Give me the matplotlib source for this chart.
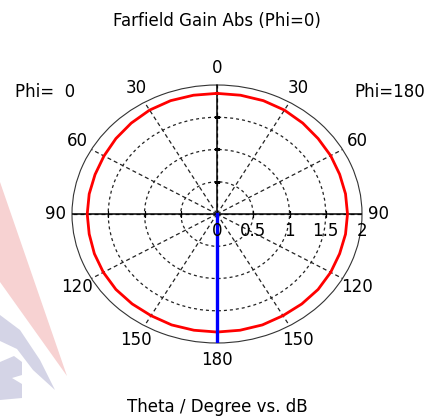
import numpy as np
import matplotlib
matplotlib.use('Agg')
import matplotlib.pyplot as plt
from matplotlib.patches import Polygon

# ---- data ----
theta_deg = np.arange(0, 181, 10)
gain_phi0 = [1.87, 1.87, 1.87, 1.86, 1.84, 1.82, 1.80, 1.79, 1.79, 1.79,
             1.79, 1.80, 1.81, 1.82, 1.82, 1.82, 1.83, 1.83, 1.83]
gain_phi180 = [1.87, 1.87, 1.87, 1.86, 1.84, 1.82, 1.81, 1.80, 1.80, 1.80,
               1.80, 1.80, 1.81, 1.82, 1.82, 1.82, 1.83, 1.83, 1.83]
theta_grid_deg = [0, 30, 60, 90, 120, 150, 180, 210, 240, 270, 300, 330]
theta_labels = ['0', '30', '60', '90', '120', '150', '180',
                '150', '120', '90', '60', '30']
r_grid = [0.5, 1.0, 1.5]
r_ticks = [0, 0.5, 1, 1.5, 2]
r_labels = ['0', '0.5', '1', '1.5', '2']
r_max = 2
main_lobe_theta = 180

title = 'Farfield Gain Abs (Phi=0)'
xlabel = 'Theta / Degree vs. dB'
left_label = 'Phi=  0'
right_label = 'Phi=180'

FS = 12
plt.rcParams['font.family'] = ['DejaVu Sans']

fig = plt.figure(figsize=(4.30, 4.19), dpi=100)
W, H = 430, 419


def fpts(pts):
    return [(x / W, 1 - y / H) for x, y in pts]


# faint watermark in the lower-left corner
pink = Polygon(fpts([(0, 182), (67, 376), (0, 282)]),
               closed=True, transform=fig.transFigure, facecolor='#f7d2d2',
               edgecolor='none', zorder=0)
grey1 = Polygon(fpts([(0, 315), (20, 330), (40, 360), (55, 390),
                      (33, 370), (17, 349), (0, 341)]),
                closed=True, transform=fig.transFigure, facecolor='#d4d4e6',
                edgecolor='none', zorder=0)
grey2 = Polygon(fpts([(0, 362), (14, 356), (22, 362), (22, 375), (12, 378),
                      (22, 384), (22, 398), (0, 400)]),
                closed=True, transform=fig.transFigure, facecolor='#d4d4e6',
                edgecolor='none', zorder=0)
for p in (pink, grey1, grey2):
    fig.patches.append(p)

ax = fig.add_axes([72 / W, 76 / H, 290 / W, 258 / H], projection='polar')
ax.set_aspect('auto')
ax.patch.set_alpha(0)
ax.set_theta_zero_location('N')
ax.set_theta_direction(1)
ax.set_ylim(0, r_max)

ax.set_thetagrids(theta_grid_deg, labels=theta_labels, fontsize=FS)
ax.set_rgrids(r_grid, labels=['' for _ in r_grid])
ax.tick_params(axis='x', direction='in', length=4, width=0.8, pad=5, colors='black')
ax.xaxis.grid(True, color='#222222', linestyle=(0, (3.2, 2.4)), linewidth=0.9)
ax.yaxis.grid(True, color='#222222', linestyle=(0, (2.4, 2.4)), linewidth=0.9)
ax.spines['polar'].set_color('#333333')
ax.spines['polar'].set_linewidth(0.8)

# solid axis lines
ax.plot(np.deg2rad([90, 90]), [0, r_max], color='black', lw=1.1, zorder=3)
ax.plot(np.deg2rad([270, 270]), [0, r_max], color='black', lw=1.1, zorder=3)
ax.plot(np.deg2rad([0, 0]), [0, r_max], color='black', lw=1.1, zorder=3)
ax.plot(np.deg2rad([90] * 3 + [270] * 3), r_grid * 2, ls='none', marker='|',
        ms=5, mew=0.9, color='black', zorder=3)
ax.plot(np.deg2rad([0] * 3), r_grid, ls='none', marker='_',
        ms=5, mew=0.9, color='black', zorder=3)

# gain curve
ang = np.concatenate([theta_deg, 360 - theta_deg[::-1]])
gain = np.concatenate([gain_phi0, gain_phi180[::-1]])
ax.plot(np.deg2rad(ang), gain, color='#ff0000', lw=2.0, zorder=4)

# main lobe direction
ax.plot(np.deg2rad([main_lobe_theta, main_lobe_theta]), [0, r_max],
        color='#0000ff', lw=2.4, zorder=5)

# radial labels below the horizontal axis
for r, lab in zip(r_ticks, r_labels):
    ax.annotate(lab, xy=(np.deg2rad(270), r), xytext=(0, -12.5),
                textcoords='offset points', ha='center', va='center',
                fontsize=FS, zorder=6, annotation_clip=False)

fig.text(217 / W, 1 - 21 / H, title, ha='center', va='center', fontsize=FS)
fig.text(217 / W, 1 - 407 / H, xlabel, ha='center', va='center', fontsize=FS)
fig.text(15 / W, 1 - 92 / H, left_label, ha='left', va='center', fontsize=FS)
fig.text(425 / W, 1 - 92 / H, right_label, ha='right', va='center', fontsize=FS)

fig.savefig('out.png', dpi=100)
